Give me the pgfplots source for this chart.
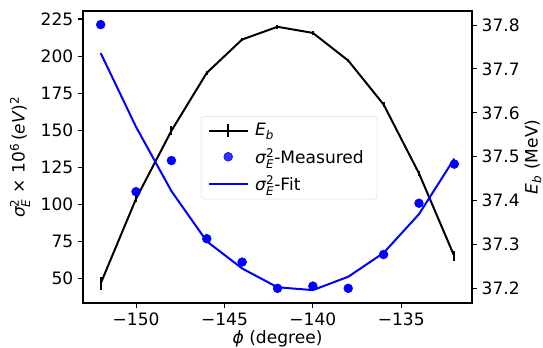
\documentclass[border=0pt]{standalone}
\usepackage{fontspec}
\setmainfont{DejaVu Sans}
\usepackage{amsmath}
\usepackage{pgfplots}
\pgfplotsset{compat=1.18}

\pgfplotstableread{
x y
-152 221.2
-150 108.5
-148 129.5
-146 76.8
-144 61.0
-142 43.3
-140 44.8
-138 43.3
-136 66.1
-134 100.7
-132 127.1
}\measured

\pgfplotstableread{
x y
-152 202.0
-150 152.2
-148 108.9
-146 75.0
-144 56.7
-142 44.0
-140 42.1
-138 51.1
-136 67.2
-134 93.3
-132 130.8
}\fit

\pgfplotstableread{
x y e
-152 37.211 0.015
-150 37.404 0.008
-148 37.559 0.010
-146 37.691 0.005
-144 37.767 0.004
-142 37.796 0.004
-140 37.782 0.004
-138 37.719 0.004
-136 37.619 0.005
-134 37.462 0.006
-132 37.273 0.011
}\energy

\begin{document}
\begin{tikzpicture}
\pgfplotsset{
  every axis/.append style={font=\fontsize{12.8}{15}\selectfont},
  tick align=outside,
  major tick length=3.75pt,
  tick style={black, line width=0.8pt},
}
% E_b axis (right scale)
\begin{axis}[
  at={(0pt,0pt)}, anchor=south west,
  width=291.75pt, height=219pt, scale only axis,
  xmin=-153, xmax=-131,
  ymin=37.1665, ymax=37.832,
  axis x line=none,
  axis y line*=right,
  axis line style={black, line width=0.8pt, -},
  ytick={37.2,37.3,37.4,37.5,37.6,37.7,37.8},
  yticklabels={37.2,37.3,37.4,37.5,37.6,37.7,37.8},
  ylabel={\textit{E}$_{\text{\itshape b}}$ (MeV)},
  ylabel style={at={(axis description cs:1,0.5)}, anchor=center, yshift=-45.75pt},
]
\addplot[black, line width=1.5pt, mark=none,
  error bars/.cd, y dir=both, y explicit, error mark=none,
  error bar style={line width=1.5pt}]
  table[x=x,y=y,y error=e] {\energy};
\end{axis}

% sigma axis (left scale) with legend
\begin{axis}[
  at={(0pt,0pt)}, anchor=south west,
  width=291.75pt, height=219pt, scale only axis,
  xmin=-153, xmax=-131,
  ymin=33.4, ymax=230.4,
  xtick pos=bottom, ytick pos=left,
  axis line style={black, line width=0.8pt},
  xtick={-150,-145,-140,-135},
  xticklabels={−150,−145,−140,−135},
  ytick={50,75,100,125,150,175,200,225},
  yticklabels={50,75,100,125,150,175,200,225},
  xlabel={\textit{ϕ} (degree)},
  ylabel={$\text{\itshape σ}^{\text{2}}_{\text{\itshape E}}$ × 10$^{\text{6}}$\,(\textit{eV})$^{\text{2}}$},
  xlabel style={at={(axis description cs:0.5,0)}, anchor=center, yshift=-27pt},
  ylabel style={at={(axis description cs:0,0.5)}, anchor=center, yshift=47.25pt},
  clip=false,
  legend image code/.code={\draw[mark repeat=2,mark phase=2,#1] plot coordinates {(0pt,0pt) (14.5pt,0pt) (29pt,0pt)};},
  legend style={at={(rel axis cs:0.53,0.497)}, anchor=center,
    draw=black!15, rounded corners=2.5pt, fill=white, fill opacity=0.8, text opacity=1,
    font=\fontsize{12.8}{15}\selectfont, row sep=6pt, inner xsep=5pt, inner ysep=4pt,
    cells={anchor=west},
    nodes={inner xsep=5pt, inner ysep=1pt}},
]
\addlegendimage{black, line width=1.5pt, mark=none,
  legend image code/.code={\draw[black, line width=1.5pt] (0pt,0pt) -- (29pt,0pt); \draw[black, line width=1.5pt] (14.5pt,-5pt) -- (14.5pt,5pt);}}
\addlegendentry{\textit{E}$_{\text{\itshape b}}$}
\addplot[only marks, mark=*, blue, mark size=3.3pt, mark options={draw=blue, fill=blue}] table[x=x,y=y] {\measured};
\addlegendentry{$\text{\itshape σ}^{\text{2}}_{\text{\itshape E}}$-Measured}
\addplot[blue, line width=1.5pt, mark=none] table[x=x,y=y] {\fit};
\addlegendentry{$\text{\itshape σ}^{\text{2}}_{\text{\itshape E}}$-Fit}
\end{axis}
\pgfresetboundingbox
\path[use as bounding box] (-62.25pt,-33.75pt) rectangle (345pt,227.25pt);
\end{tikzpicture}
\end{document}
